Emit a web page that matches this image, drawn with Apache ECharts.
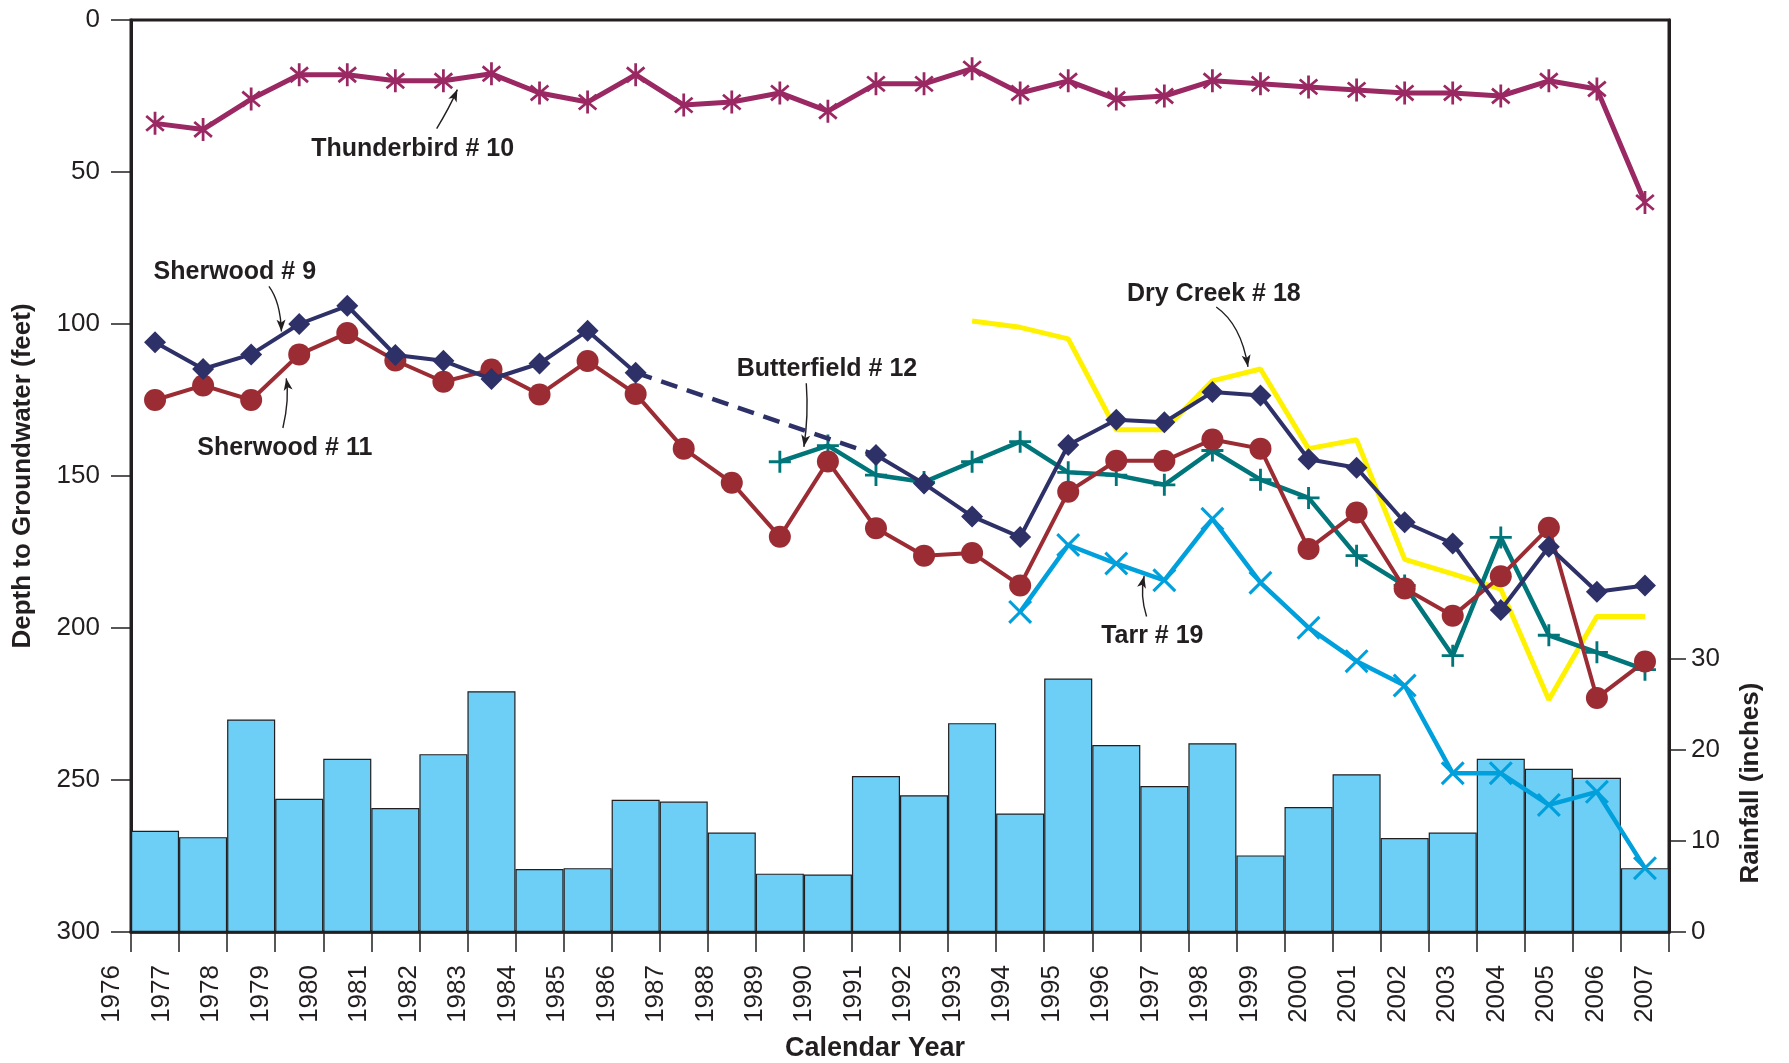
<!DOCTYPE html>
<html lang="en">
<head>
    <meta charset="utf-8">
    <title>Depth to Groundwater</title>
    <script src="https://cdn.jsdelivr.net/npm/echarts@6/dist/echarts.min.js"></script>
</head>
<body style="margin:0;background:#fff;">
<div id="main" style="width:1789px;height:1063px;"></div>
<script type="text/javascript">
    // one entry per calendar year, 1976..2007
    const years = [1976, 1977, 1978, 1979, 1980, 1981, 1982, 1983, 1984, 1985, 1986, 1987, 1988, 1989, 1990, 1991,
        1992, 1993, 1994, 1995, 1996, 1997, 1998, 1999, 2000, 2001, 2002, 2003, 2004, 2005, 2006, 2007];
    const rainfall = [11.1, 10.4, 23.3, 14.6, 19.0, 13.6, 19.5, 26.4, 6.9, 7.0, 14.5, 14.3, 10.9, 6.4, 6.3, 17.1,
        15.0, 22.9, 13.0, 27.8, 20.5, 16.0, 20.7, 8.4, 13.7, 17.3, 10.3, 10.9, 19.0, 17.9, 16.9, 7.0];
    const thunderbird10 = [34, 36, 26, 18, 18, 20, 20, 17.7, 24, 27, 18, 28, 27, 24, 30, 21,
        21, 16, 24, 20, 26, 25, 20, 21, 22, 23, 24, 24, 25, 20, 22.7, 60];
    const sherwood9 = [106, 114.8, 110, 100, 94, 110.2, 112.1, 118.1, 113, 102.2, 116, null, null, null, null, 143.1,
        152.5, 163.3, 170.1, 139.8, 131.5, 132.3, 122.4, 123.5, 144.5, 147.3, 165.2, 172.2, 194.1, 173.3, 188.1, 186];
    const sherwood11 = [125, 120.2, 125, 110, 103, 112, 119, 115, 123.2, 112.2, 123, 141, 152.2, 170, 145.2, 167.2,
        176.2, 175.3, 186, 155.2, 145, 145, 138, 141, 174, 162, 187, 196, 183, 167, 223, 211];
    const butterfield12 = [null, null, null, null, null, null, null, null, null, null, null, null, null, 145.3, 140, 149.7,
        152, 145.3, 138.7, 148.8, 149.7, 152.9, 141.6, 151.2, 157.2, 176.2, 186, 209.1, 170.2, 202.4, 208, 213.7];
    const dryCreek18 = [null, null, null, null, null, null, null, null, null, null, null, null, null, null, null, null,
        null, 99, 101.1, 104.9, 134.8, 134.8, 118.7, 114.8, 141, 138.1, 177.4, 182.2, 187.2, 223.6, 196.2, 196.2];
    const tarr19 = [null, null, null, null, null, null, null, null, null, null, null, null, null, null, null, null,
        null, null, 194.7, 172.7, 178.8, 184.3, 164.1, 185.1, 199.9, 210.9, 218.9, 247.8, 247.8, 258.2, 253.9, 279];
    const depthTicks = [0, 50, 100, 150, 200, 250, 300];
    const rainTicks = [0, 10, 20, 30];
    const yearLabels = years.map(String);

    // labels with arrows, in chart units (year, depth)
    const notes = [
        {text: 'Thunderbird # 10', at: [1981.86, 42.4], arrow: [[1982.36, 35.7], [1982.62, 29], [1982.79, 22.9]]},
        {text: 'Sherwood # 9', at: [1978.16, 83], arrow: [[1978.87, 87.6], [1979.11, 92.7], [1979.13, 102.5]]},
        {text: 'Sherwood # 11', at: [1979.2, 140.8], arrow: [[1979.16, 134.2], [1979.3, 124.7], [1979.23, 117.9]]},
        {text: 'Butterfield # 12', at: [1990.48, 114.9], arrow: [[1990.05, 119.5], [1990.1, 130.3], [1990.0, 140.4]]},
        {text: 'Dry Creek # 18', at: [1998.53, 90.1], arrow: [[1998.58, 94.4], [1999.1, 100.2], [1999.24, 114.1]]},
        {text: 'Tarr # 19', at: [1997.25, 202.7], arrow: [[1997.13, 196.2], [1996.99, 189.2], [1997.08, 182.9]]}
    ];

    const ink = '#231F20';
    const font = 'Liberation Sans';

    const asterisk = 'path://M-1.2,-10L1.2,-10L1.2,10L-1.2,10Z' +
        'M-8.43,-5.51L-6.89,-7.35L8.43,5.51L6.89,7.35Z' +
        'M6.89,-7.35L8.43,-5.51L-6.89,7.35L-8.43,5.51Z';
    const plus = 'path://M-1.3,-10L1.3,-10L1.3,10L-1.3,10ZM-10,-1.3L10,-1.3L10,1.3L-10,1.3Z';
    const cross = 'path://M-7.78,-6.36L-6.36,-7.78L7.78,6.36L6.36,7.78Z' +
        'M6.36,-7.78L7.78,-6.36L-6.36,7.78L-7.78,6.36Z';

    // a point sits in the middle of its year
    function pts(vals) {
        return years.map((y, i) => [y + 0.5, vals[i] == null ? '-' : vals[i]]);
    }

    function wellLine(name, vals, color, width, symbol, size, z) {
        return {
            name: name, type: 'line', xAxisIndex: 0, yAxisIndex: 0, data: pts(vals),
            symbol: symbol, symbolSize: size, showSymbol: symbol !== 'none',
            symbolKeepAspect: true, connectNulls: false, z: z,
            lineStyle: {color: color, width: width},
            itemStyle: {color: color, borderWidth: 0},
            silent: true
        };
    }

    // dashed link across the Sherwood # 9 gap
    const gapStart = sherwood9.indexOf(null) - 1;
    const gapEnd = sherwood9.lastIndexOf(null) + 1;
    const sherwood9Link = [[years[gapStart] + 0.5, sherwood9[gapStart]], [years[gapEnd] + 0.5, sherwood9[gapEnd]]];

    const chart = echarts.init(document.getElementById('main'));
    const option = {
        animation: false,
        backgroundColor: '#fff',
        grid: [
            {left: 131, right: 120, top: 20, bottom: 131, show: true, borderColor: ink, borderWidth: 3,
                outerBoundsMode: 'none', containLabel: false},
            // carries only the year labels, which sit a little wider than the ticks
            {left: 112, right: 144, top: 20, bottom: 131, show: false, outerBoundsMode: 'none', containLabel: false}
        ],
        xAxis: [{
            type: 'value', gridIndex: 0, min: years[0], max: years[years.length - 1] + 1, interval: 1,
            axisLine: {show: true, onZero: false, lineStyle: {color: ink, width: 3.5}},
            axisTick: {show: true, length: 20, lineStyle: {color: ink, width: 1.5}},
            axisLabel: {show: false},
            splitLine: {show: false},
            name: 'Calendar Year', nameLocation: 'middle', nameGap: 103,
            nameTextStyle: {fontSize: 27, fontWeight: 'bold', fontFamily: font, color: ink, padding: [0, 50, 0, 0]}
        }, {
            type: 'category', gridIndex: 1, data: yearLabels, boundaryGap: false, position: 'bottom',
            axisLine: {show: false}, axisTick: {show: false}, splitLine: {show: false},
            axisLabel: {interval: 0, rotate: 90, fontSize: 26, fontFamily: font, color: ink, margin: 33}
        }],
        yAxis: [{
            type: 'value', gridIndex: 0, inverse: true, min: depthTicks[0], max: depthTicks[depthTicks.length - 1],
            interval: 50,
            axisLine: {show: true, lineStyle: {color: ink, width: 3}},
            axisTick: {show: true, length: 20, lineStyle: {color: ink, width: 1.5}},
            axisLabel: {fontSize: 26, fontFamily: font, color: ink, margin: 31},
            splitLine: {show: false},
            name: 'Depth to Groundwater (feet)', nameLocation: 'middle', nameGap: 95, nameRotate: 90,
            nameTextStyle: {fontSize: 26, fontWeight: 'bold', fontFamily: font, color: ink}
        }, {
            type: 'value', gridIndex: 0, position: 'right', min: 0, max: 100, interval: 10,
            axisLine: {show: true, lineStyle: {color: ink, width: 3}},
            axisTick: {show: true, length: 17, customValues: rainTicks, lineStyle: {color: ink, width: 1.5}},
            axisLabel: {
                fontSize: 26, fontFamily: font, color: ink, margin: 22, customValues: rainTicks,
                formatter: v => (rainTicks.indexOf(v) >= 0 ? String(v) : '')
            },
            splitLine: {show: false}
        }, {
            type: 'value', gridIndex: 1, show: false
        }],
        series: [
            {
                name: 'Rainfall', type: 'bar', xAxisIndex: 0, yAxisIndex: 1, data: pts(rainfall), barWidth: '100%',
                z: 1, silent: true,
                itemStyle: {color: '#6DCFF6', borderColor: ink, borderWidth: 1.2}
            },
            wellLine('Dry Creek # 18', dryCreek18, '#FFF200', 5, 'none', 0, 3),
            wellLine('Tarr # 19', tarr19, '#00A0DC', 4.5, cross, 24, 4),
            wellLine('Butterfield # 12', butterfield12, '#00757A', 4.5, plus, 22, 5),
            wellLine('Sherwood # 11', sherwood11, '#9B2C33', 4, 'circle', 22, 6),
            wellLine('Sherwood # 9', sherwood9, '#2E3068', 4, 'diamond', 22, 7),
            {
                name: 'Sherwood # 9 link', type: 'line', xAxisIndex: 0, yAxisIndex: 0, data: sherwood9Link,
                symbol: 'none', z: 7, silent: true,
                lineStyle: {color: '#2E3068', width: 4.5, type: [17, 10]}
            },
            wellLine('Thunderbird # 10', thunderbird10, '#9A2862', 5, asterisk, 23, 8)
        ]
    };
    chart.setOption(option);

    function px(p) {
        return chart.convertToPixel({seriesIndex: 1}, p);
    }

    const graphics = [];
    notes.forEach(n => {
        const c = px(n.at);
        graphics.push({
            type: 'text', x: c[0], y: c[1], z: 20,
            style: {
                text: n.text, fontSize: 25, fontWeight: 'bold', fontFamily: font, fill: ink,
                align: 'center', verticalAlign: 'middle', textAlign: 'center', textVerticalAlign: 'middle'
            }
        });
        const a = px(n.arrow[0]), b = px(n.arrow[1]), h = px(n.arrow[2]);
        graphics.push({
            type: 'bezierCurve', z: 20,
            shape: {x1: a[0], y1: a[1], cpx1: b[0], cpy1: b[1], x2: h[0], y2: h[1]},
            style: {stroke: ink, lineWidth: 1.4, fill: null}
        });
        const ang = Math.atan2(h[1] - b[1], h[0] - b[0]);
        const L = 12, W = 4.5;
        const bx = h[0] - L * Math.cos(ang), by = h[1] - L * Math.sin(ang);
        graphics.push({
            type: 'polygon', z: 20,
            shape: {points: [[h[0], h[1]], [bx - W * Math.sin(ang), by + W * Math.cos(ang)],
                [bx + 3 * Math.cos(ang), by + 3 * Math.sin(ang)], [bx + W * Math.sin(ang), by - W * Math.cos(ang)]]},
            style: {fill: ink}
        });
    });
    graphics.push({
        type: 'text', x: 1751, y: 783, rotation: Math.PI / 2, z: 20,
        style: {
            text: 'Rainfall (inches)', fontSize: 26, fontWeight: 'bold', fontFamily: font, fill: ink,
            align: 'center', verticalAlign: 'middle', textAlign: 'center', textVerticalAlign: 'middle'
        }
    });
    chart.setOption({graphic: graphics});
</script>
</body>
</html>
